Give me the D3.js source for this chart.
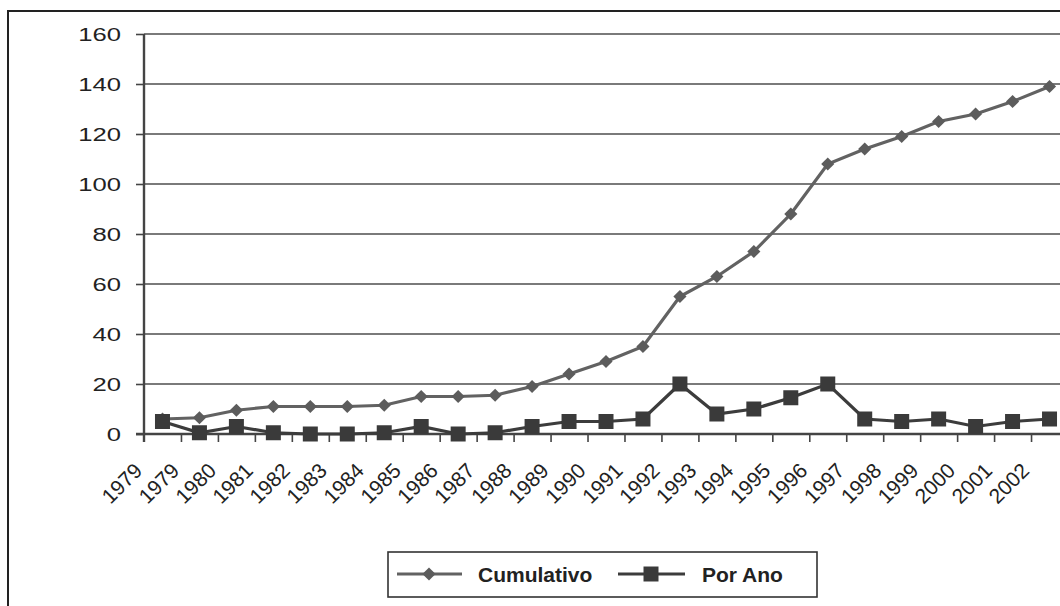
<!DOCTYPE html>
<html>
<head>
<meta charset="utf-8">
<script src="https://cdn.jsdelivr.net/npm/d3@7"></script>
<style>
  body { margin: 0; background: #fff; }
  text { font-family: "Liberation Sans", Arial, sans-serif; fill: #222; }
</style>
</head>
<body>
<div id="plot"></div>
<script>

// data

  var categories = ["1979", "1979", "1980", "1981", "1982", "1983", "1984", "1985",
      "1986", "1987", "1988", "1989", "1990", "1991", "1992", "1993", "1994",
      "1995", "1996", "1997", "1998", "1999", "2000", "2001", "2002"];

  var cumulativo = [6, 6.5, 9.5, 11, 11, 11, 11.5, 15, 15, 15.5, 19, 24, 29, 35,
      55, 63, 73, 88, 108, 114, 119, 125, 128, 133, 139];

  var porAno = [5, 0.5, 3, 0.5, 0, 0, 0.5, 3, 0, 0.5, 3, 5, 5, 6,
      20, 8, 10, 14.5, 20, 6, 5, 6, 3, 5, 6];

  var yTicks = [0, 20, 40, 60, 80, 100, 120, 140, 160];

  var seriesNames = ["Cumulativo", "Por Ano"];

// sizes

  var w = 1060;
  var h = 606;
  var margin = {top: 34, left: 144, bottom: 434};
  var band = 36.96;

  var xScale = d3.scaleBand()
      .domain(d3.range(categories.length))
      .range([margin.left, margin.left + band * categories.length]);

  // edges of the categories, for the tick marks between them
  var edgeScale = d3.scaleLinear()
      .domain([0, categories.length])
      .range([margin.left, margin.left + band * categories.length]);

  var yScale = d3.scaleLinear()
      .domain([0, 160])
      .range([margin.bottom, margin.top]);

  var svg = d3.select("div#plot")
    .append("svg")
      .attr("width", w)
      .attr("height", h);

// outer frame (cut off at right and bottom)

  svg.append("rect")
      .attr("x", 8)
      .attr("y", 11)
      .attr("width", 1200)
      .attr("height", 800)
      .attr("fill", "#fff")
      .attr("stroke", "#222")
      .attr("stroke-width", 2);

// gridlines

  svg.append("g")
    .selectAll("line")
      .data(yTicks.slice(1))
    .enter().append("line")
      .attr("x1", margin.left)
      .attr("x2", w + 20)
      .attr("y1", d => yScale(d))
      .attr("y2", d => yScale(d))
      .attr("stroke", "#7a7a7a")
      .attr("stroke-width", 1.8);

// y axis

  var yAxis = d3.axisLeft(yScale)
      .tickValues(yTicks)
      .tickSize(8)
      .tickFormat("");

  var yG = svg.append("g")
      .attr("transform", `translate (${margin.left}, 0)`)
      .call(yAxis);

  yG.select(".domain").remove();
  yG.selectAll("line").attr("stroke", "#444").attr("stroke-width", 1.6);

  svg.append("line")
      .attr("x1", margin.left)
      .attr("x2", margin.left)
      .attr("y1", yScale(160))
      .attr("y2", yScale(0) + 8)
      .attr("stroke", "#444")
      .attr("stroke-width", 2.4);

  svg.append("g")
    .selectAll("text")
      .data(yTicks)
    .enter().append("text")
      .attr("transform", d => `translate (121, ${yScale(d)}) scale(1.35, 1)`)
      .attr("dy", "0.36em")
      .attr("text-anchor", "end")
      .style("font-size", "19px")
      .text(d => d);

// x axis

  var xAxis = d3.axisBottom(edgeScale)
      .tickValues(d3.range(1, categories.length + 1))
      .tickSize(8)
      .tickFormat("");

  var xG = svg.append("g")
      .attr("transform", `translate (0, ${margin.bottom})`)
      .call(xAxis);

  xG.select(".domain").remove();
  xG.selectAll("line").attr("stroke", "#444").attr("stroke-width", 1.6);

  svg.append("line")
      .attr("x1", margin.left - 8)
      .attr("x2", w + 20)
      .attr("y1", margin.bottom)
      .attr("y2", margin.bottom)
      .attr("stroke", "#444")
      .attr("stroke-width", 2.4);

  svg.append("g")
    .selectAll("text")
      .data(categories)
    .enter().append("text")
      .attr("transform", (d, i) => `translate (${xScale(i) + xScale.bandwidth() / 2 - 19}, 472) rotate(-45)`)
      .attr("text-anchor", "end")
      .style("font-size", "21px")
      .text(d => d);

// lines and markers

  var cx = (d, i) => xScale(i) + xScale.bandwidth() / 2;

  var line = d3.line()
      .x(cx)
      .y(d => yScale(d));

  svg.append("path")
      .datum(cumulativo)
      .attr("d", line)
      .attr("fill", "none")
      .attr("stroke", "#626262")
      .attr("stroke-width", 3.2);

  svg.append("path")
      .datum(porAno)
      .attr("d", line)
      .attr("fill", "none")
      .attr("stroke", "#3c3c3c")
      .attr("stroke-width", 3.2);

  var diamond = d3.symbol().type(d3.symbolDiamond2).size(110);

  svg.append("g")
    .selectAll("path")
      .data(cumulativo)
    .enter().append("path")
      .attr("transform", (d, i) => `translate (${cx(d, i)}, ${yScale(d)})`)
      .attr("d", diamond)
      .attr("fill", "#5c5c5c");

  svg.append("g")
    .selectAll("rect")
      .data(porAno)
    .enter().append("rect")
      .attr("x", (d, i) => cx(d, i) - 7.5)
      .attr("y", d => yScale(d) - 7.5)
      .attr("width", 15)
      .attr("height", 15)
      .attr("fill", "#3a3a3a");

// legend

  var legend = svg.append("g")
      .attr("transform", "translate (388, 552)");

  legend.append("rect")
      .attr("width", 429)
      .attr("height", 45)
      .attr("fill", "#fff")
      .attr("stroke", "#333")
      .attr("stroke-width", 1.6);

  var items = legend.selectAll("g.item")
      .data(seriesNames)
    .enter().append("g")
      .attr("class", "item")
      .attr("transform", (d, i) => `translate (${i == 0 ? 9 : 230}, 22)`);

  items.append("line")
      .attr("x1", 0)
      .attr("x2", (d, i) => i == 0 ? 65 : 67)
      .attr("stroke", (d, i) => i == 0 ? "#626262" : "#3c3c3c")
      .attr("stroke-width", 3.2);

  items.append("path")
      .attr("transform", (d, i) => `translate (${i == 0 ? 32 : 33}, 0)`)
      .attr("d", (d, i) => i == 0 ? diamond() : d3.symbol().type(d3.symbolSquare).size(225)())
      .attr("fill", (d, i) => i == 0 ? "#5c5c5c" : "#3a3a3a");

  items.append("text")
      .attr("x", (d, i) => i == 0 ? 81 : 84)
      .attr("dy", "0.36em")
      .style("font-size", "21px")
      .style("font-weight", "bold")
      .text(d => d);

</script>
</body>
</html>
